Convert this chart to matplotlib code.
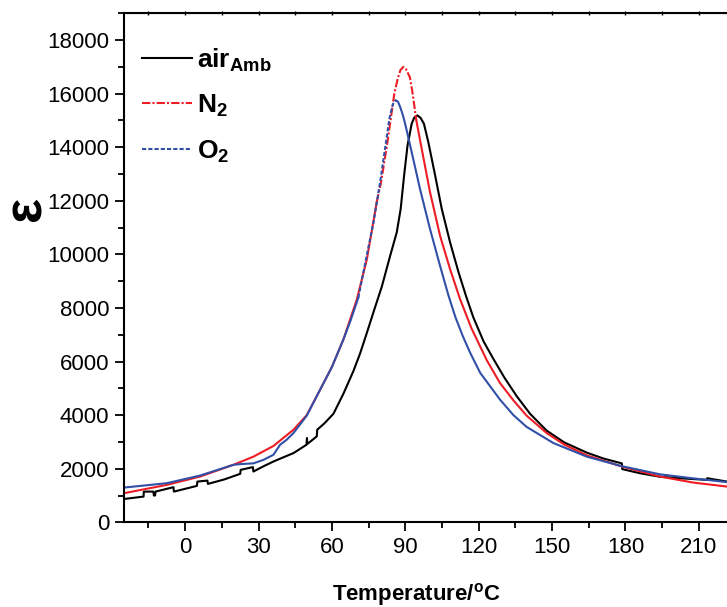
"""
plot.py
=======
Dielectric permittivity vs temperature under different atmospheres.
"""

import numpy as np
import matplotlib
matplotlib.use("Agg")
import matplotlib.pyplot as plt
from matplotlib.ticker import MultipleLocator

plt.rcParams["font.family"] = ["Liberation Sans", "DejaVu Sans"]
plt.rcParams["mathtext.fontset"] = "custom"
plt.rcParams["mathtext.rm"] = "Liberation Sans"
plt.rcParams["mathtext.bf"] = "Liberation Sans:bold"

# --- data ---------------------------------------------------------------
air_T = [-25, -17.0, -16.9, -13.0, -12.8, -12.3, -12.1, -4.8, -4.6, 4.8, 5.0,
         9.1, 9.3, 16, 22.5, 22.7, 27.7, 27.9, 32, 36.1, 40, 44.3, 49.6, 49.8,
         49.9, 53.8, 54.0, 57, 60.6, 64.7, 68.8, 71.5, 74.3, 77.0, 80.4, 83.8,
         86.5, 88.1, 89.5, 90.9, 92.6, 93.6, 94.9, 96.2, 97.6, 99.4, 102.2,
         104.9, 108.3, 111.7, 114.8, 117.8, 122, 126, 130.5, 135.6, 141, 147.8,
         155, 164.2, 171, 178.5, 178.7, 186, 194.1, 203, 213.2, 213.4, 221.5]
air_eps = [870, 960, 1146, 1146, 1000, 1000, 1146, 1311, 1146, 1359, 1520,
           1558, 1434, 1600, 1809, 1959, 2060, 1895, 2090, 2270, 2420, 2584,
           2895, 3146, 2920, 3206, 3457, 3700, 4050, 4800, 5650, 6300, 7078,
           7850, 8800, 9947, 10823, 11696, 12943, 14066, 14879, 15100, 15190,
           15100, 14880, 14193, 12943, 11696, 10449, 9350, 8450, 7650, 6750,
           6100, 5400, 4700, 4050, 3420, 2980, 2600, 2380, 2200, 1985, 1830,
           1700, 1640, 1584, 1645, 1520]

n2_T = [-25, -7.5, 6.1, 19.7, 27.9, 36.1, 44.3, 49.7, 55.2, 60, 64.7, 70.2,
        74.3, 78.3, 80.1, 82.7, 85.5, 87.0, 88.0, 89.2, 90.4, 91.9, 93.0, 94.5,
        96.7, 100.1, 104.2, 108.3, 112.4, 117, 123.3, 128.7, 134.2, 139.6,
        147.8, 155, 164.2, 178.5, 194.1, 207.7, 221.5]
n2_eps = [1086, 1397, 1708, 2146, 2450, 2850, 3457, 4000, 4955, 5800, 6827,
          8325, 9823, 11947, 12696, 14193, 16000, 16600, 16880, 17000, 16900,
          16600, 16000, 15000, 13943, 12321, 10696, 9449, 8325, 7250, 6050,
          5200, 4550, 3980, 3330, 2900, 2500, 2082, 1708, 1483, 1333]

o2_T = [-25, -7.5, 6.1, 19.7, 22.5, 27.9, 32, 36.1, 38.8, 41.5, 44.3, 49.7,
        55.2, 60, 64.7, 67.5, 70.8, 74.2, 77.0, 79.7, 81.7, 83.5, 84.6, 85.3,
        86.1, 87.0, 87.9, 89.0, 90.0, 92.6, 96.0, 100.1, 104.2, 107.6, 110.5,
        113.5, 116.5, 120.6, 128.7, 134.2, 139.6, 150.5, 164.2, 178.5, 194.1,
        207.7, 221.5]
o2_eps = [1296, 1460, 1745, 2146, 2172, 2200, 2330, 2520, 2895, 3082, 3333,
          3980, 4955, 5800, 6827, 7500, 8389, 9947, 11198, 12696, 13943, 15066,
          15500, 15700, 15750, 15700, 15504, 15200, 14850, 13819, 12445, 10947,
          9572, 8480, 7650, 6950, 6329, 5580, 4580, 4000, 3560, 2960, 2450,
          2095, 1790, 1640, 1500]

labels = [r"$\mathbf{air}_{\mathbf{Amb}}$", r"$\mathbf{N}_{\mathbf{2}}$",
          r"$\mathbf{O}_{\mathbf{2}}$"]


def split_plot(ax, T, eps, lo, hi, color, dashes, label):
    """Solid curve with a dashed stretch over the peak, as in the original."""
    T = np.asarray(T)
    eps = np.asarray(eps)
    left = T <= lo
    right = T >= hi
    mid = (T >= lo) & (T <= hi)
    ax.plot(T[left], eps[left], color=color, lw=1.5)
    ax.plot(T[right], eps[right], color=color, lw=1.5)
    ax.plot(T[mid], eps[mid], color=color, lw=1.5, dashes=dashes, label=label)


fig = plt.figure(figsize=(7.27, 6.07), dpi=100)
ax = fig.add_axes([124 / 727, 1 - 522.3 / 607, 1 - 124 / 727, 509 / 607])

ax.plot(air_T, air_eps, color="black", lw=1.5, label=labels[0])
split_plot(ax, n2_T, n2_eps, 78.3, 94.5, "#ee1c25", (4, 1, 1, 1), labels[1])
split_plot(ax, o2_T, o2_eps, 70.8, 86.1, "#3050a8", (2, 1), labels[2])

ax.set_xlim(-25, 221.5)
ax.set_ylim(0, 19000)
ax.xaxis.set_major_locator(MultipleLocator(30))
ax.xaxis.set_minor_locator(MultipleLocator(15))
ax.yaxis.set_major_locator(MultipleLocator(2000))
ax.yaxis.set_minor_locator(MultipleLocator(1000))

for side in ("left", "bottom", "top"):
    ax.spines[side].set_linewidth(1.5)
ax.spines["right"].set_visible(False)
ax.tick_params(which="major", direction="out", length=6.5, width=1.3,
               labelsize=16, pad=4)
ax.tick_params(which="minor", direction="out", length=4, width=1.3)

top = ax.secondary_xaxis("top")
top.xaxis.set_major_locator(MultipleLocator(15))
top.tick_params(direction="inout", length=3, width=1, labeltop=False)

ax.set_xlabel(r"Temperature/$^{\mathbf{o}}$C", fontsize=16, fontweight="bold")
ax.xaxis.set_label_coords(0.485, -0.115)
ax.set_ylabel("ε", fontsize=38, fontweight="bold")
ax.yaxis.set_label_coords(-0.12, 0.617)

ax.legend(loc="upper left", bbox_to_anchor=(0, 0.972), frameon=False,
          fontsize=19, handlelength=1.86, handletextpad=0.22,
          labelspacing=0.72, borderaxespad=0.3, borderpad=0.4)

fig.savefig("out.png", dpi=100)
plt.close(fig)
